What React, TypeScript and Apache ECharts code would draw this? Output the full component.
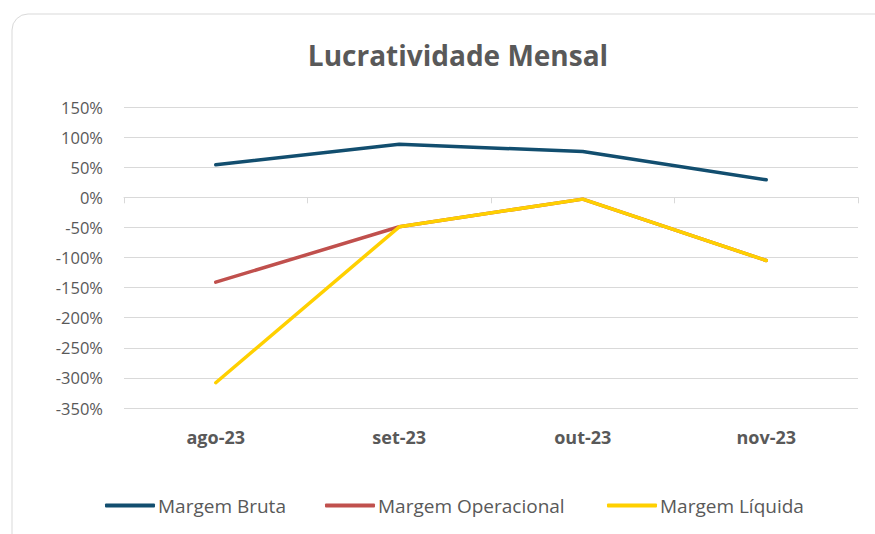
import React, { useEffect, useRef } from "react";
import * as echarts from "echarts";

const categories = ["ago-23", "set-23", "out-23", "nov-23"];
const seriesNames = ["Margem Bruta", "Margem Operacional", "Margem Líquida"];
const margemBruta = [54, 88, 76, 29];
const margemOperacional = [-141, -49, -3, -105];
const margemLiquida = [-308, -49, -3, -105];
const yTicks = { min: -350, max: 150, interval: 50 };

export default function App() {
  const ref = useRef<HTMLDivElement>(null);
  useEffect(() => {
    if (!ref.current) return;
    const chart = echarts.init(ref.current, null, { renderer: "svg" });
    const font = "'Open Sans', 'Noto Sans', sans-serif";
    const legendLefts = [105, 325, 607];
    const colors = ["#124E6F", "#C0504D", "#FFD000"];
    const allData = [margemBruta, margemOperacional, margemLiquida];
    chart.setOption({
      animation: false,
      backgroundColor: "#ffffff",
      graphic: [
        {
          type: "rect",
          shape: { x: 12, y: 14, width: 900, height: 540, r: 16 },
          style: { fill: "none", stroke: "#d9d9d9", lineWidth: 1 },
          silent: true,
        },
      ],
      title: {
        text: "Lucratividade Mensal",
        left: 453,
        textAlign: "center",
        top: 36,
        textStyle: { fontFamily: font, fontSize: 28, fontWeight: "bold", color: "#595959" },
      },
      grid: { left: 124, right: 17, top: 107, bottom: 126 },
      legend: seriesNames.map((name, i) => ({
        top: 496,
        left: legendLefts[i],
        padding: 0,
        itemWidth: 50,
        itemHeight: 4,
        icon: "roundRect",
        textStyle: { fontFamily: font, fontSize: 19, color: "#595959", padding: [0, 0, 0, -2] },
        data: [name],
      })),
      xAxis: [
        {
          type: "category",
          data: categories,
          boundaryGap: true,
          axisLine: { show: false, onZero: false },
          axisTick: { show: false },
          axisLabel: {
            fontFamily: font,
            fontSize: 18,
            fontWeight: "bold",
            color: "#595959",
            margin: 20,
          },
        },
        {
          type: "category",
          data: categories,
          boundaryGap: true,
          position: "bottom",
          axisLine: { show: true, onZero: true, lineStyle: { color: "#d9d9d9", width: 1 } },
          axisTick: { show: true, length: 6, lineStyle: { color: "#d9d9d9" } },
          axisLabel: { show: false },
        },
      ],
      yAxis: {
        type: "value",
        min: yTicks.min,
        max: yTicks.max,
        interval: yTicks.interval,
        axisLine: { show: false },
        axisTick: { show: false },
        splitLine: { lineStyle: { color: "#d9d9d9", width: 1 } },
        axisLabel: {
          formatter: "{value}%",
          fontFamily: font,
          fontSize: 16.5,
          color: "#595959",
          margin: 21,
        },
      },
      series: seriesNames.map((name, i) => ({
        name,
        type: "line",
        data: allData[i],
        showSymbol: false,
        symbol: "none",
        lineStyle: { color: colors[i], width: 3.5, cap: "round" },
        itemStyle: { color: colors[i] },
      })),
    });
    return () => chart.dispose();
  }, []);
  return (
    <div
      ref={ref}
      style={{ position: "fixed", left: 0, top: 0, width: 875, height: 534 }}
    />
  );
}
